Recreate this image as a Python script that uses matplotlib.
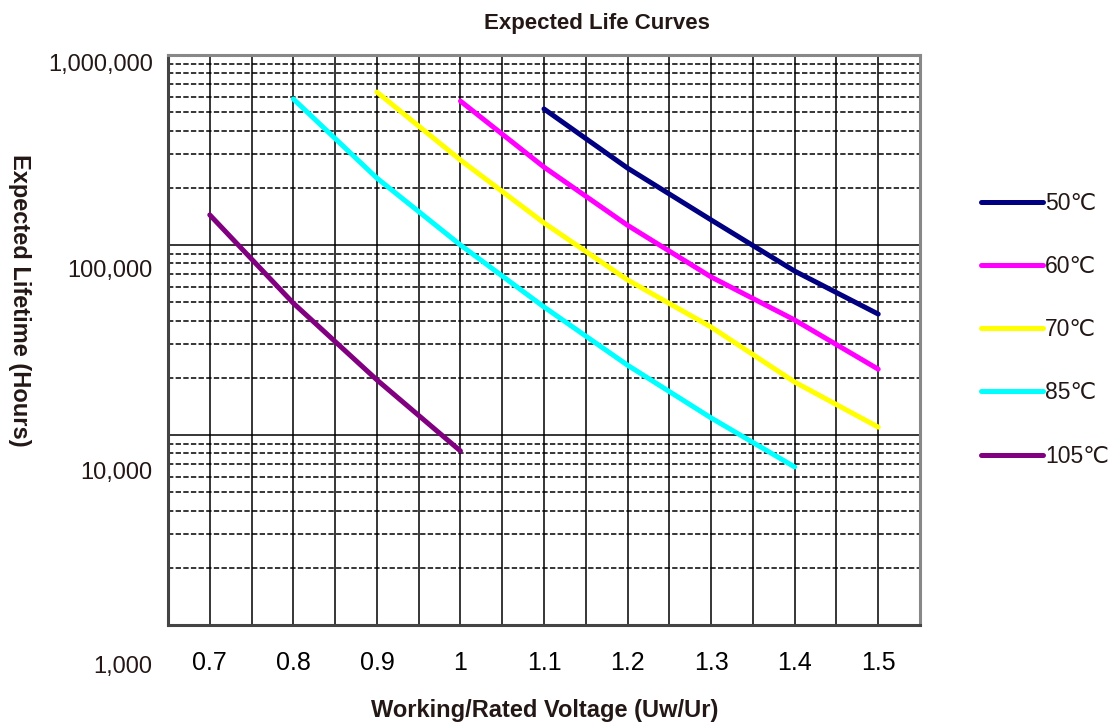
import matplotlib
matplotlib.use("Agg")
import matplotlib.pyplot as plt
import matplotlib.transforms as mtransforms
from matplotlib.ticker import MultipleLocator, LogLocator, NullFormatter

plt.rcParams['font.family'] = ['Liberation Sans', 'DejaVu Sans']

# values
v50 = [1.1, 1.2, 1.3, 1.4, 1.5]
h50 = [520000, 254000, 135500, 72900, 43300]
v60 = [1.0, 1.1, 1.2, 1.3, 1.4, 1.5]
h60 = [572000, 257000, 127000, 67900, 40300, 22200]
v70 = [0.9, 1.0, 1.1, 1.2, 1.3, 1.4, 1.5]
h70 = [638000, 280000, 130700, 65500, 37000, 19000, 11000]
v85 = [0.8, 0.9, 1.0, 1.1, 1.2, 1.3, 1.4]
h85 = [587000, 225000, 100000, 47200, 23300, 12300, 6790]
v105 = [0.7, 0.8, 0.9, 1.0]
h105 = [144000, 49400, 19500, 8240]

series = [
    ("50\u2103", v50, h50, "#000080"),
    ("60\u2103", v60, h60, "#ff00ff"),
    ("70\u2103", v70, h70, "#ffff00"),
    ("85\u2103", v85, h85, "#00ffff"),
    ("105\u2103", v105, h105, "#800080"),
]

x_ticks = [0.7, 0.8, 0.9, 1.0, 1.1, 1.2, 1.3, 1.4, 1.5]
x_labels = ["0.7", "0.8", "0.9", "1", "1.1", "1.2", "1.3", "1.4", "1.5"]
y_ticks = [1000, 10000, 100000, 1000000]
y_labels = ["1,000", "10,000", "100,000", "1,000,000"]

fig = plt.figure(figsize=(11.14, 7.27), dpi=100)
ax = fig.add_axes([168 / 1114, 1 - 625 / 727, 752 / 1114, 570 / 727])

for name, xs, ys, col in series:
    ax.plot(xs, ys, color=col, lw=3.6, label=name, solid_capstyle='round', zorder=3)

ax.set_yscale('log')
ax.set_xlim(0.65, 1.55)
ax.set_ylim(1000, 1000000)

ax.set_xticks(x_ticks)
ax.set_xticklabels(x_labels, fontsize=18, color='black')
ax.xaxis.set_minor_locator(MultipleLocator(0.05))
ax.set_yticks(y_ticks)
ax.set_yticklabels(y_labels, fontsize=17, color='#231815')
ax.yaxis.set_minor_locator(LogLocator(base=10, subs=range(2, 10)))
ax.yaxis.set_minor_formatter(NullFormatter())
ax.tick_params(which='both', length=0)
ax.tick_params(axis='x', pad=19)
ax.tick_params(axis='y', pad=11)

ax.xaxis.grid(True, which='both', color='black', lw=1.1, ls='-')
ax.yaxis.grid(True, which='major', color='black', lw=1.1, ls='-')
ax.yaxis.grid(True, which='minor', color='black', lw=1.1, ls=(0, (3.5, 1.5)))
ax.set_axisbelow(True)

for s in ['left', 'bottom']:
    ax.spines[s].set_color('#444444')
    ax.spines[s].set_linewidth(2.2)
for s in ['top', 'right']:
    ax.spines[s].set_color('#888888')
    ax.spines[s].set_linewidth(2.2)

# the reference prints its y labels a bit below the grid lines
shifts = [40, 35, 23, 7]
for lab, dy in zip(ax.yaxis.get_majorticklabels(), shifts):
    off = mtransforms.ScaledTranslation(0, -dy / 100, fig.dpi_scale_trans)
    lab.set_transform(lab.get_transform() + off)

fig.text(597 / 1114, 1 - 24 / 727, "Expected Life Curves", ha='center', va='center',
         fontsize=16, fontweight='bold', color='#231815')
fig.text(545 / 1114, 1 - 710 / 727, "Working/Rated Voltage (Uw/Ur)", ha='center',
         va='center', fontsize=17, fontweight='bold', color='#231815')
fig.text(19 / 1114, 1 - 300 / 727, "Expected Lifetime (Hours)", ha='center',
         va='center', rotation=-90, fontsize=17, fontweight='bold', color='#231815')

leg = fig.legend(loc='upper left', bbox_to_anchor=(972 / 1114, 1 - 183 / 727),
                 frameon=False, fontsize=16.5, handlelength=2.7, handletextpad=0.1,
                 labelspacing=1.75, borderaxespad=0)
for t in leg.get_texts():
    t.set_color('#231815')

fig.savefig("out.png", dpi=100)
